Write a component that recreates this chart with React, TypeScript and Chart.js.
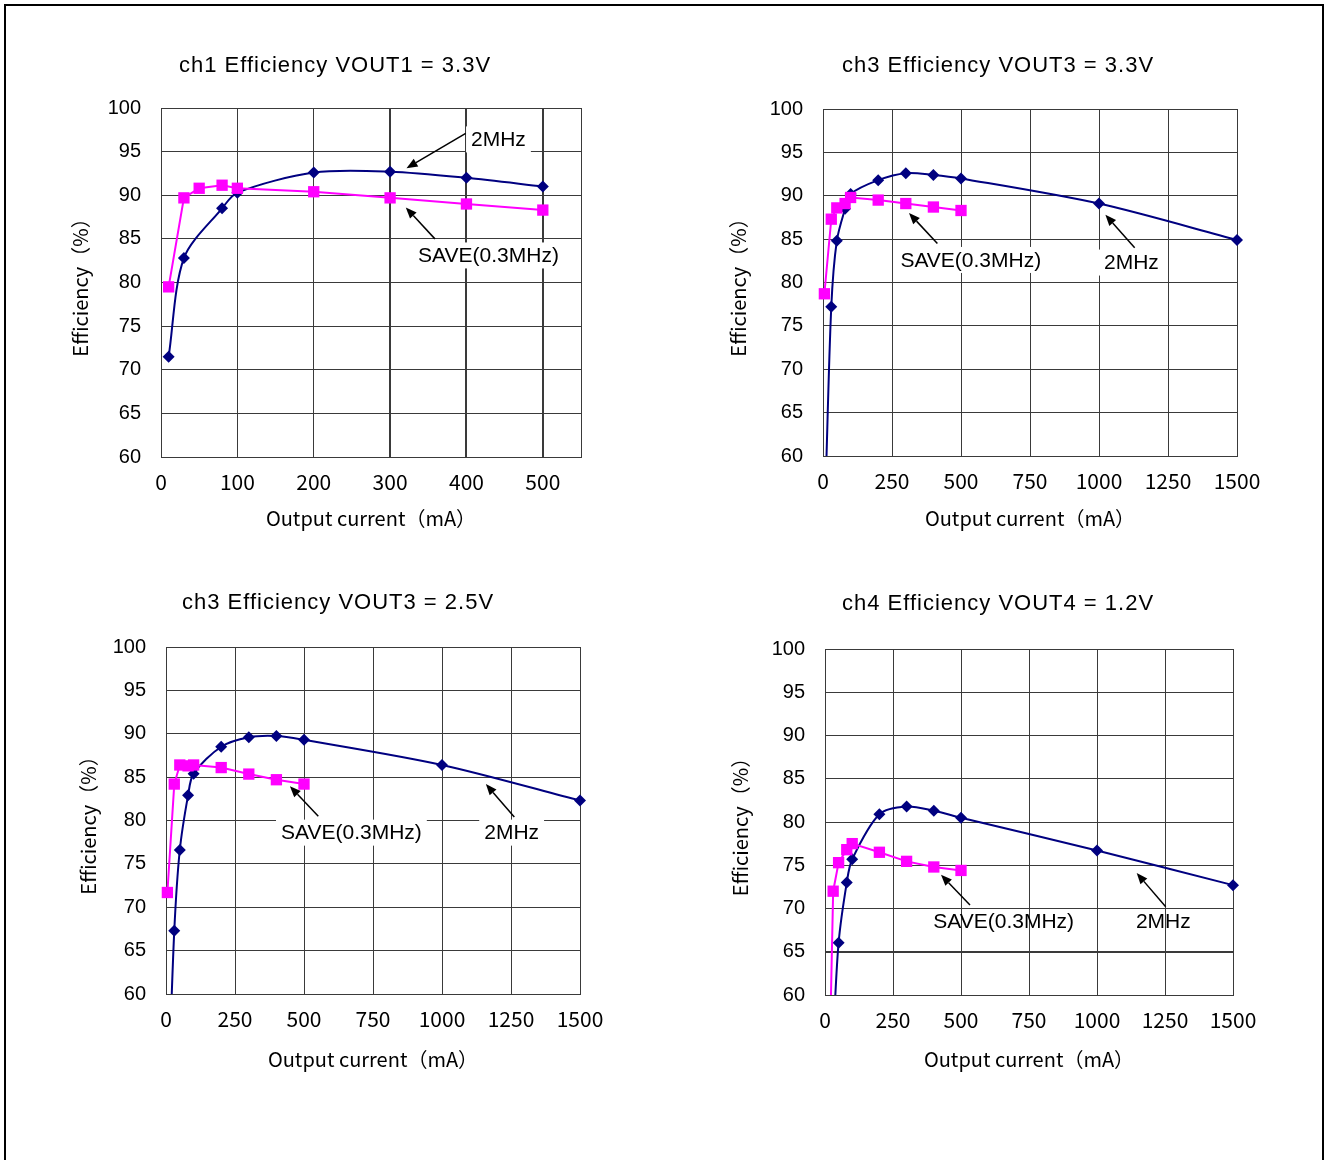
import React, { useEffect, useRef } from 'react';
import { Chart, registerables } from 'chart.js';

Chart.register(...registerables);

// ---------- data ----------
const X_TICKS_500 = [0, 100, 200, 300, 400, 500];
const X_TICKS_1500 = [0, 250, 500, 750, 1000, 1250, 1500];
const Y_TICKS = [60, 65, 70, 75, 80, 85, 90, 95, 100];

// ch1 VOUT1 = 3.3V
const CH1_2MHZ_X = [10, 30, 80, 100, 200, 300, 400, 500];
const CH1_2MHZ_Y = [71.5, 82.8, 88.5, 90.3, 92.6, 92.7, 92.0, 91.0];
const CH1_SAVE_X = [10, 30, 50, 80, 100, 200, 300, 400, 500];
const CH1_SAVE_Y = [79.5, 89.7, 90.8, 91.15, 90.8, 90.4, 89.7, 89.0, 88.3];

// ch3 VOUT3 = 3.3V
const CH3A_2MHZ_X = [10, 30, 50, 80, 100, 200, 300, 400, 500, 1000, 1500];
const CH3A_2MHZ_Y = [57, 77.2, 84.8, 88.5, 90.2, 91.8, 92.6, 92.4, 92.0, 89.1, 84.9];
const CH3A_SAVE_X = [5, 30, 50, 80, 100, 200, 300, 400, 500];
const CH3A_SAVE_Y = [78.7, 87.3, 88.6, 89.1, 89.8, 89.5, 89.1, 88.7, 88.3];

// ch3 VOUT3 = 2.5V
const CH3B_2MHZ_X = [10, 30, 50, 80, 100, 200, 300, 400, 500, 1000, 1500];
const CH3B_2MHZ_Y = [50, 67.3, 76.6, 82.9, 85.4, 88.5, 89.6, 89.75, 89.3, 86.4, 82.3];
const CH3B_SAVE_X = [5, 30, 50, 80, 100, 200, 300, 400, 500];
const CH3B_SAVE_Y = [71.7, 84.2, 86.4, 86.3, 86.4, 86.1, 85.35, 84.7, 84.2];

// ch4 VOUT4 = 1.2V
const CH4_2MHZ_X = [30, 50, 80, 100, 200, 300, 400, 500, 1000, 1500];
const CH4_2MHZ_Y = [55, 66.05, 73.0, 75.7, 80.9, 81.8, 81.3, 80.5, 76.7, 72.7];
const CH4_SAVE_X = [20, 30, 50, 80, 100, 200, 300, 400, 500];
const CH4_SAVE_Y = [57, 72.0, 75.3, 76.8, 77.5, 76.5, 75.45, 74.8, 74.4];

const TITLES = [
  'ch1 Efficiency VOUT1 = 3.3V',
  'ch3 Efficiency VOUT3 = 3.3V',
  'ch3 Efficiency VOUT3 = 2.5V',
  'ch4 Efficiency VOUT4 = 1.2V',
];
const X_TITLE = 'Output current（mA）';
const Y_TITLE = 'Efficiency（%）';
const LABEL_2MHZ = '2MHz';
const LABEL_SAVE = 'SAVE(0.3MHz)';

// annotation callouts, in data units: arrows [fromX, fromY, toX, toY]; labels [text, leftX, centerY, whiteBg]
const CH1_ARROWS = [[399, 97.1, 321.5, 93.1], [358.7, 85.0, 320.6, 88.6]];
const CH1_LABELS: [string, number, number, boolean][] = [[LABEL_2MHZ, 406, 96.4, true], [LABEL_SAVE, 336.7, 83.1, true]];
const CH3A_ARROWS = [[414.5, 84.5, 311.6, 88.0], [1129.3, 84.0, 1023.2, 87.8]];
const CH3A_LABELS: [string, number, number, boolean][] = [[LABEL_SAVE, 280.4, 82.6, true], [LABEL_2MHZ, 1018, 82.3, true]];
const CH3B_ARROWS = [[551.8, 80.5, 449, 83.95], [1262, 80.4, 1159, 84.2]];
const CH3B_LABELS: [string, number, number, boolean][] = [[LABEL_SAVE, 416.7, 78.6, true], [LABEL_2MHZ, 1153, 78.6, true]];
const CH4_ARROWS = [[533, 70.4, 426.5, 73.9], [1252.6, 70.2, 1146, 74.1]];
const CH4_LABELS: [string, number, number, boolean][] = [[LABEL_SAVE, 398, 68.5, false], [LABEL_2MHZ, 1143, 68.5, false]];

// ---------- styles / layout ----------
const NAVY = '#000080';
const MAGENTA = '#FF00FF';
const GRID = '#3a3a3a';
const ARIAL = "'Liberation Sans', Arial, sans-serif";
const GOTHIC = "'Noto Sans CJK JP', sans-serif";

interface Panel {
  title: string;
  box: { left: number; top: number; width: number; height: number };
  area: { l: number; t: number; r: number; b: number };
  titlePos: [number, number];
  yTitleX: number;
  xTitleY: number;
  xMax: number;
  xTicks: number[];
  fastX: number[];
  fastY: number[];
  saveX: number[];
  saveY: number[];
  thickX: number[];
  thickY: number[];
  arrows: number[][];
  labels: [string, number, number, boolean][];
}

const PANELS: Panel[] = [
  {
    title: TITLES[0],
    box: { left: 0, top: 0, width: 662, height: 565 },
    area: { l: 161, t: 108, r: 581, b: 457 },
    titlePos: [335, 71.5],
    yTitleX: 80,
    xTitleY: 518.5,
    xMax: 550,
    xTicks: X_TICKS_500,
    fastX: CH1_2MHZ_X, fastY: CH1_2MHZ_Y, saveX: CH1_SAVE_X, saveY: CH1_SAVE_Y,
    thickX: [300, 400, 500], thickY: [],
    arrows: CH1_ARROWS, labels: CH1_LABELS,
  },
  {
    title: TITLES[1],
    box: { left: 662, top: 0, width: 663, height: 565 },
    area: { l: 161, t: 109, r: 575, b: 456 },
    titlePos: [336, 71.5],
    yTitleX: 76,
    xTitleY: 518.5,
    xMax: 1500,
    xTicks: X_TICKS_1500,
    fastX: CH3A_2MHZ_X, fastY: CH3A_2MHZ_Y, saveX: CH3A_SAVE_X, saveY: CH3A_SAVE_Y,
    thickX: [], thickY: [],
    arrows: CH3A_ARROWS, labels: CH3A_LABELS,
  },
  {
    title: TITLES[2],
    box: { left: 0, top: 565, width: 662, height: 595 },
    area: { l: 166, t: 82, r: 580, b: 429 },
    titlePos: [338, 44],
    yTitleX: 88,
    xTitleY: 494,
    xMax: 1500,
    xTicks: X_TICKS_1500,
    fastX: CH3B_2MHZ_X, fastY: CH3B_2MHZ_Y, saveX: CH3B_SAVE_X, saveY: CH3B_SAVE_Y,
    thickX: [], thickY: [],
    arrows: CH3B_ARROWS, labels: CH3B_LABELS,
  },
  {
    title: TITLES[3],
    box: { left: 662, top: 565, width: 663, height: 595 },
    area: { l: 163, t: 84, r: 571, b: 430 },
    titlePos: [336, 44.5],
    yTitleX: 78,
    xTitleY: 494,
    xMax: 1500,
    xTicks: X_TICKS_1500,
    fastX: CH4_2MHZ_X, fastY: CH4_2MHZ_Y, saveX: CH4_SAVE_X, saveY: CH4_SAVE_Y,
    thickX: [], thickY: [65],
    arrows: CH4_ARROWS, labels: CH4_LABELS,
  },
];

function overlayPlugin(p: Panel) {
  return {
    id: 'overlay',
    beforeDatasetsDraw(chart: any) {
      const { ctx, chartArea: a } = chart;
      ctx.save();
      ctx.strokeStyle = GRID;
      ctx.lineWidth = 1;
      ctx.strokeRect(Math.round(a.left) + 0.5, Math.round(a.top) + 0.5, Math.round(a.right - a.left), Math.round(a.bottom - a.top));
      ctx.restore();
    },
    afterDatasetsDraw(chart: any) {
      const { ctx } = chart;
      const xs = chart.scales.x;
      const ys = chart.scales.y;
      ctx.save();
      // labels
      ctx.font = `21px ${ARIAL}`;
      ctx.textAlign = 'left';
      ctx.textBaseline = 'middle';
      for (const [text, lx, ly, bg] of p.labels) {
        const x = xs.getPixelForValue(lx);
        const y = ys.getPixelForValue(ly);
        const w = ctx.measureText(text).width;
        if (bg) {
          ctx.fillStyle = '#ffffff';
          ctx.fillRect(x - 5, y - 13, w + 10, 26);
        }
        ctx.fillStyle = '#000000';
        ctx.fillText(text, x, y + 1);
      }
      // arrows
      ctx.strokeStyle = '#000000';
      ctx.fillStyle = '#000000';
      ctx.lineWidth = 1.5;
      for (const [fx, fy, tx, ty] of p.arrows) {
        const x1 = xs.getPixelForValue(fx);
        const y1 = ys.getPixelForValue(fy);
        const x2 = xs.getPixelForValue(tx);
        const y2 = ys.getPixelForValue(ty);
        const ang = Math.atan2(y2 - y1, x2 - x1);
        const hl = 11;
        const hw = 4.5;
        const bx = x2 - hl * Math.cos(ang);
        const by = y2 - hl * Math.sin(ang);
        ctx.beginPath();
        ctx.moveTo(x1, y1);
        ctx.lineTo(bx, by);
        ctx.stroke();
        ctx.beginPath();
        ctx.moveTo(x2, y2);
        ctx.lineTo(bx + hw * Math.sin(ang), by - hw * Math.cos(ang));
        ctx.lineTo(bx - hw * Math.sin(ang), by + hw * Math.cos(ang));
        ctx.closePath();
        ctx.fill();
      }
      ctx.restore();
    },
    afterDraw(chart: any) {
      const { ctx } = chart;
      ctx.save();
      ctx.font = `22px ${ARIAL}`;
      (ctx as any).letterSpacing = '1px';
      ctx.fillStyle = '#000000';
      ctx.textAlign = 'center';
      ctx.textBaseline = 'alphabetic';
      ctx.fillText(p.title, p.titlePos[0], p.titlePos[1]);
      ctx.restore();
    },
  };
}

function ChartPanel({ p }: { p: Panel }) {
  const ref = useRef<HTMLCanvasElement | null>(null);
  useEffect(() => {
    if (!ref.current) return;
    const clip = { left: 14, right: 14, top: 14, bottom: 0 };
    const chart = new Chart(ref.current, {
      type: 'line',
      data: {
        datasets: [
          {
            label: LABEL_SAVE,
            data: p.saveX.map((x, i) => ({ x, y: p.saveY[i] })),
            borderColor: MAGENTA,
            backgroundColor: MAGENTA,
            borderWidth: 2,
            pointStyle: 'rect',
            pointRadius: 8,
            pointBorderWidth: 0,
            tension: 0,
            clip,
          },
          {
            label: LABEL_2MHZ,
            data: p.fastX.map((x, i) => ({ x, y: p.fastY[i] })),
            borderColor: NAVY,
            backgroundColor: NAVY,
            borderWidth: 2,
            pointStyle: 'rectRot',
            pointRadius: 6,
            pointBorderWidth: 0,
            tension: 0.3,
            clip,
          },
        ] as any,
      },
      options: {
        animation: false,
        responsive: false,
        maintainAspectRatio: false,
        devicePixelRatio: 1,
        events: [],
        layout: { padding: { left: 0, top: p.area.t, right: p.box.width - p.area.r, bottom: 0 } },
        plugins: { legend: { display: false }, tooltip: { enabled: false }, title: { display: false } },
        scales: {
          x: {
            type: 'linear',
            min: 0,
            max: p.xMax,
            afterBuildTicks: (s: any) => { s.ticks = p.xTicks.map((v) => ({ value: v })); },
            afterFit: (s: any) => { s.height = p.box.height - p.area.b; },
            grid: {
              color: GRID,
              lineWidth: (c: any) => (p.thickX.includes(c.tick?.value) ? 2 : 1),
              drawTicks: false,
            },
            border: { color: '#000', width: 1 },
            ticks: {
              color: '#000',
              font: { family: GOTHIC, size: 21 },
              padding: 12,
              maxRotation: 0,
              autoSkip: false,
              callback: (v: any) => String(v),
            },
            title: {
              display: true,
              text: X_TITLE,
              color: '#000',
              font: { family: GOTHIC, size: 20 },
              padding: { top: 0, bottom: p.box.height - p.xTitleY - 12 },
            },
          },
          y: {
            type: 'linear',
            min: 60,
            max: 100,
            afterBuildTicks: (s: any) => { s.ticks = Y_TICKS.map((v) => ({ value: v })); },
            afterFit: (s: any) => { s.width = p.area.l; },
            grid: {
              color: GRID,
              lineWidth: (c: any) => (p.thickY.includes(c.tick?.value) ? 2 : 1),
              drawTicks: false,
            },
            border: { color: '#000', width: 1 },
            ticks: { color: '#000', font: { family: ARIAL, size: 20 }, padding: 20, callback: (v: any) => String(v) },
            title: {
              display: true,
              text: Y_TITLE,
              color: '#000',
              font: { family: GOTHIC, size: 20 },
              padding: { top: p.yTitleX - 12, bottom: 0 },
            },
          },
        },
      } as any,
      plugins: [overlayPlugin(p)],
    });
    return () => chart.destroy();
  }, [p]);
  return (
    <canvas
      ref={ref}
      width={p.box.width}
      height={p.box.height}
      style={{ position: 'absolute', left: p.box.left, top: p.box.top, width: p.box.width, height: p.box.height }}
    />
  );
}

export default function App() {
  return (
    <div style={{ position: 'absolute', left: 0, top: 0, width: 1325, height: 1160, overflow: 'hidden', background: '#fff' }}>
      <div
        style={{
          position: 'absolute',
          left: 4,
          top: 4,
          width: 1316,
          height: 1200,
          border: '2px solid #000',
        }}
      />
      {PANELS.map((p, i) => (
        <ChartPanel key={i} p={p} />
      ))}
    </div>
  );
}
